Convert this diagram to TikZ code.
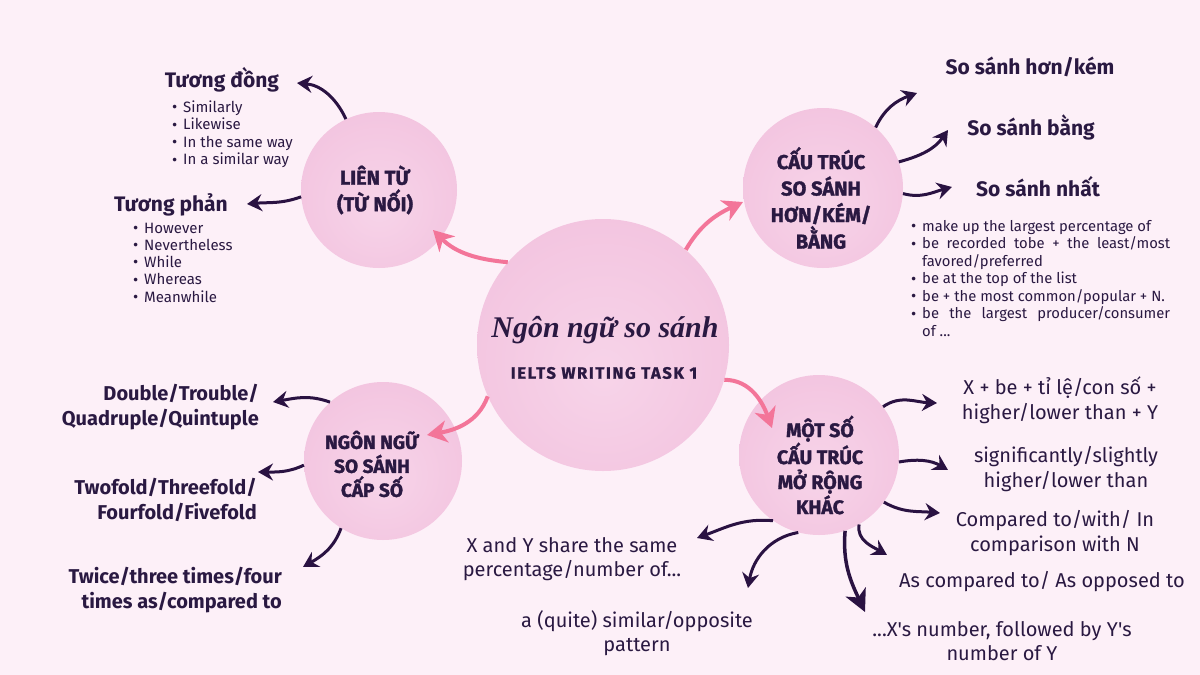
\documentclass[tikz,border=0pt]{standalone}
\usepackage{fontspec}
\setmainfont{Fira Sans}[Ligatures=TeXOff]
\newfontfamily\titlefont{Liberation Serif}
\newfontfamily\spacedfont[LetterSpace=10,FakeBold=1.2]{Fira Sans}
\newfontfamily\heavyfont[FakeBold=1.6]{Fira Sans}
\usetikzlibrary{arrows.meta}
\definecolor{bgc}{HTML}{FDF0F8}
\definecolor{ink}{HTML}{2A1942}
\definecolor{arrowc}{HTML}{2A1242}
\definecolor{pinkc}{HTML}{F37599}
\definecolor{blobin}{HTML}{F7D4E9}
\definecolor{blobmid}{HTML}{F3C5E0}
\definecolor{blobout}{HTML}{EEB4D5}
\pgfdeclareradialshading{blobshade}{\pgfpoint{0bp}{-6bp}}{color(0bp)=(blobin); color(28bp)=(blobmid); color(47bp)=(blobmid); color(50bp)=(blobout)}
\newcommand\bul{\makebox[11pt][l]{\raisebox{-0.3pt}{\fontsize{16}{0}\selectfont\textbullet}}}
\begin{document}
\begin{tikzpicture}[x=1pt,y=1pt,
  txt/.style={text=ink, inner sep=0pt},
  headtxt/.style={txt, font=\fontsize{21}{25}\selectfont\bfseries},
  itemtxt/.style={txt, align=left, font=\fontsize{15}{17.5}\selectfont},
  bigtxt/.style={txt, align=center, font=\fontsize{20}{24.5}\selectfont},
  numtxt/.style={txt, align=right, font=\fontsize{20}{24.5}\selectfont\bfseries},
  circtxt/.style={txt, align=center, font=\heavyfont\bfseries\fontsize{20}{26.5}\selectfont},
  blob/.style={circle, inner sep=0pt, shading=blobshade},
  darr/.style={draw=arrowc, line width=3pt, -{Stealth[length=15pt,width=17pt,inset=5pt]}},
  parr/.style={draw=pinkc, line width=4pt, -{Stealth[length=20pt,width=22pt,inset=6pt]}},
]
\fill[bgc] (0,0) rectangle (1200,-675);
\useasboundingbox (0,0) rectangle (1200,-675);

% circles
\node[blob, minimum size=252pt] (center) at (603,-345) {};
\node[blob, minimum size=156pt] (lien) at (379,-190) {};
\node[blob, minimum size=160pt] (cautruc) at (823,-188) {};
\node[blob, minimum size=160pt] (motso) at (819,-455) {};
\node[blob, minimum size=158pt] (capso) at (383,-461) {};

% circle texts
\node[txt, font=\titlefont\bfseries\itshape\fontsize{30}{34}\selectfont] (title) at (605,-330) {Ngôn ngữ so sánh};
\node[txt, font=\spacedfont\bfseries\fontsize{16.5}{18}\selectfont] (subtitle) at (604,-373) {IELTS WRITING TASK 1};
\node[circtxt] (lientxt) at (375,-190) {LIÊN TỪ\\(TỪ NỐI)};
\node[circtxt] (cautructxt) at (821,-198) {CẤU TRÚC\\SO SÁNH\\HƠN/KÉM/\\BẰNG};
\node[circtxt, font=\heavyfont\bfseries\fontsize{19.5}{25}\selectfont] (motsotxt) at (820,-465) {MỘT SỐ\\CẤU TRÚC\\MỞ RỘNG\\KHÁC};
\node[circtxt, font=\heavyfont\bfseries\fontsize{19}{24}\selectfont] (capsotxt) at (372,-464) {NGÔN NGỮ\\SO SÁNH\\CẤP SỐ};

% left top
\node[headtxt] (tuongdong) at (222,-80) {Tương đồng};
\node[itemtxt, anchor=north west] (dongList) at (172,-100.5) {\bul Similarly\\\bul Likewise\\\bul In the same way\\\bul In a similar way};
\node[headtxt] (tuongphan) at (171,-205) {Tương phản};
\node[itemtxt, anchor=north west, font=\fontsize{15}{17.3}\selectfont] (phanList) at (133,-222.5) {\bul However\\\bul Nevertheless\\\bul While\\\bul Whereas\\\bul Meanwhile};

% right top
\node[headtxt] (hon) at (1030,-67) {So sánh hơn/kém};
\node[headtxt] (bang) at (1031,-127) {So sánh bằng};
\node[headtxt] (nhat) at (1038,-187) {So sánh nhất};
\node[itemtxt, anchor=north west, font=\fontsize{14.8}{17.5}\selectfont] (nhatList) at (911,-220) {\bul make up the largest percentage of\\\bul \makebox[248pt][s]{be recorded tobe + the least/most}\\\hspace*{11pt}favored/preferred\\\bul be at the top of the list\\\bul be + the most common/popular + N.\\\bul \makebox[248pt][s]{be the largest producer/consumer}\\\hspace*{11pt}of ...};

% right bottom
\node[bigtxt] (xbe) at (1060,-400) {X + be + tỉ lệ/con số +\\higher/lower than + Y};
\node[bigtxt] (signif) at (1066,-469) {significantly/slightly\\higher/lower than};
\node[bigtxt] (compared) at (1055,-533) {Compared to/with/ In\\comparison with N};
\node[bigtxt] (ascomp) at (1042,-582) {As compared to/ As opposed to};
\node[bigtxt] (followed) at (1002,-641) {...X's number, followed by Y's\\number of Y};
\node[bigtxt] (share) at (572,-559) {X and Y share the same\\percentage/number of...};
\node[bigtxt] (pattern) at (637,-633) {a (quite) similar/opposite\\pattern};

% left bottom
\node[numtxt, anchor=east] (double) at (259,-407) {Double/Trouble/\\Quadruple/Quintuple};
\node[numtxt, anchor=east] (twofold) at (257,-500) {Twofold/Threefold/\\Fourfold/Fivefold};
\node[numtxt, anchor=east] (twice) at (282,-590) {Twice/three times/four\\times as/compared to};

% arrow head points
\coordinate (hA1) at (297,-83);
\coordinate (hA2) at (247,-204);
\coordinate (hA3) at (917,-93);
\coordinate (hA4) at (948,-130);
\coordinate (hA5) at (952,-187);
\coordinate (hA6) at (937,-403);
\coordinate (hA7) at (948,-470);
\coordinate (hA8) at (940,-513);
\coordinate (hA9) at (887,-555);
\coordinate (hA10) at (865,-612);
\coordinate (hA11) at (748,-588);
\coordinate (hA12) at (697,-538);
\coordinate (hA13) at (273,-402);
\coordinate (hA14) at (258,-472);
\coordinate (hA15) at (303,-567);
\coordinate (hPa) at (433,-230);
\coordinate (hPb) at (743,-202);
\coordinate (hPc) at (772,-428);
\coordinate (hPd) at (427,-435);

% dark arrows
\draw[darr] (lien.115) to[out=115,in=-5] (hA1);
\draw[darr] (lien.185) to[out=200,in=5] (hA2);
\draw[darr] (cautruc.49) to[out=65,in=200] (hA3);
\draw[darr] (cautruc.19) to[out=15,in=235] (hA4);
\draw[darr] (cautruc.-4) to[out=-15,in=195] (hA5);
\draw[darr] (motso.37) to[out=35,in=178] (hA6);
\draw[darr] (motso.-5) to[out=10,in=150] (hA7);
\draw[darr] (motso.-36) to[out=-30,in=175] (hA8);
\draw[darr] (motso.-60) to[out=-100,in=150] (hA9);
\draw[darr, line width=3.5pt, -{Stealth[length=22pt,width=22pt,inset=6pt]}] (motso.-71) to[out=-95,in=115] (hA10);
\draw[darr] (motso.-105) to[out=190,in=80] (hA11);
\draw[darr] (motso.-125) to[out=175,in=20] (hA12);
\draw[darr] (capso.132) to[out=160,in=10] (hA13);
\draw[darr] (capso.183) to[out=205,in=0] (hA14);
\draw[darr] (capso.238) to[out=-110,in=30] (hA15);

% pink arrows
\draw[parr] (center.139.5) to[out=175,in=-45] (hPa);
\draw[parr] (center.49.7) to[out=60,in=205] (hPb);
\draw[parr] (center.-16.6) to[out=0,in=110] (hPc);
\draw[parr] (center.204) to[out=-110,in=10] (hPd);
\end{tikzpicture}
\end{document}
